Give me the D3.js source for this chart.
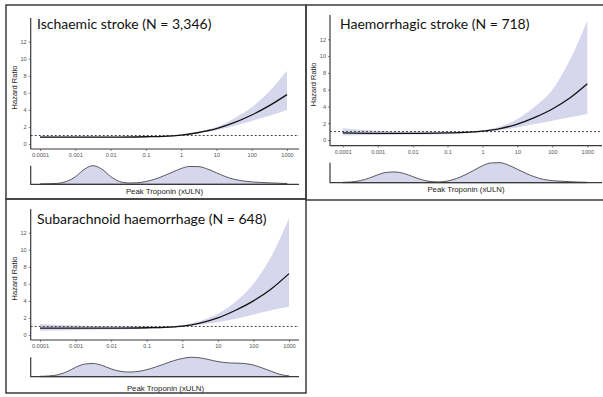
<!DOCTYPE html>
<html>
<head>
<meta charset="utf-8">
<script src="https://cdn.jsdelivr.net/npm/d3@7"></script>
<style>
  body { margin: 0; background: #fff; }
  svg { display: block; }
</style>
</head>
<body>
<svg id="chart" width="603" height="397"></svg>
<script>
// x ticks and y ticks
const xTickValues = [0.0001, 0.001, 0.01, 0.1, 1, 10, 100, 1000];
const xTickLabels = ["0.0001", "0.001", "0.01", "0.1", "1", "10", "100", "1000"];
const yTickValues = [0, 2, 4, 6, 8, 10, 12];

const hrX = [0.0001, 0.001, 0.01, 0.1, 0.316, 1, 3.16, 10, 31.6, 100, 316, 1000];

const ischHR    = [0.80, 0.80, 0.80, 0.85, 0.90, 1.05, 1.35, 1.80, 2.50, 3.40, 4.50, 5.80];
const ischLower = [0.70, 0.72, 0.74, 0.78, 0.85, 1.00, 1.25, 1.60, 2.10, 2.70, 3.30, 4.00];
const ischUpper = [0.95, 0.90, 0.88, 0.90, 0.95, 1.10, 1.45, 2.00, 3.00, 4.30, 6.20, 8.60];

const haemHR    = [0.85, 0.80, 0.80, 0.85, 0.90, 1.05, 1.35, 1.90, 2.70, 3.70, 5.00, 6.70];
const haemLower = [0.55, 0.60, 0.65, 0.70, 0.80, 0.95, 1.15, 1.50, 1.90, 2.30, 2.70, 3.10];
const haemUpper = [1.40, 1.10, 1.00, 1.00, 1.02, 1.15, 1.60, 2.50, 4.00, 6.00, 9.50, 14.2];

const sahHR     = [0.80, 0.80, 0.80, 0.85, 0.90, 1.05, 1.40, 2.00, 2.90, 4.00, 5.40, 7.20];
const sahLower  = [0.50, 0.60, 0.65, 0.70, 0.80, 0.95, 1.20, 1.50, 1.90, 2.40, 2.90, 3.30];
const sahUpper  = [1.30, 1.10, 1.00, 1.00, 1.02, 1.15, 1.65, 2.50, 3.90, 6.00, 9.20, 13.7];

// density of peak troponin, quarter-decade exponents
const densExp = [-4, -3.75, -3.5, -3.25, -3, -2.75, -2.5, -2.25, -2, -1.75, -1.5, -1.25, -1, -0.75,
  -0.5, -0.25, 0, 0.25, 0.5, 0.75, 1, 1.25, 1.5, 1.75, 2, 2.25, 2.5, 2.75, 3];
const ischDens = [0.02, 0.03, 0.05, 0.15, 0.40, 0.80, 1.00, 0.82, 0.42, 0.15, 0.07, 0.08, 0.15, 0.27,
  0.45, 0.65, 0.85, 0.96, 0.95, 0.82, 0.62, 0.42, 0.27, 0.18, 0.13, 0.10, 0.08, 0.06, 0.04];
const haemDens = [0.02, 0.04, 0.10, 0.22, 0.38, 0.50, 0.52, 0.45, 0.30, 0.15, 0.06, 0.04, 0.08, 0.20,
  0.38, 0.60, 0.82, 0.96, 0.97, 0.85, 0.65, 0.45, 0.28, 0.16, 0.10, 0.07, 0.05, 0.03, 0.02];
const sahDens  = [0.02, 0.04, 0.10, 0.25, 0.48, 0.65, 0.68, 0.58, 0.40, 0.28, 0.24, 0.27, 0.36, 0.50,
  0.66, 0.82, 0.94, 1.00, 0.97, 0.88, 0.78, 0.72, 0.70, 0.68, 0.60, 0.45, 0.28, 0.12, 0.04];

const titles = ["Ischaemic stroke (N = 3,346)", "Haemorrhagic stroke (N = 718)", "Subarachnoid haemorrhage (N = 648)"];

const panels = [
  { title: titles[0], hr: ischHR, lo: ischLower, hi: ischUpper, dens: ischDens,
    axisX: 30.7, x0: 40, x1: 287, right: 300, yTop: 18, yZero: 144, y12: 41.7, xAxisY: 149,
    densTop: 165.7, densBase: 184.3, labelY: 194, titleX: 37, titleY: 29 },
  { title: titles[1], hr: haemHR, lo: haemLower, hi: haemUpper, dens: haemDens,
    axisX: 330, x0: 342.7, x1: 587.3, right: 603, yTop: 15, yZero: 140, y12: 39.3, xAxisY: 145.7,
    densTop: 162.7, densBase: 182.7, labelY: 192, titleX: 340, titleY: 29 },
  { title: titles[2], hr: sahHR, lo: sahLower, hi: sahUpper, dens: sahDens,
    axisX: 30.7, x0: 40, x1: 289, right: 300, yTop: 209, yZero: 335, y12: 232.7, xAxisY: 340,
    densTop: 357.3, densBase: 376.7, labelY: 391, titleX: 37, titleY: 224 }
];

const svg = d3.select("#chart");
const fill = "#d6d6ec";
const axisCol = "#3a3a3a";
const sans = "'Liberation Sans', Arial, sans-serif";

// panel frames
const frame = svg.append("g").attr("fill", "none").attr("stroke", "#3c3c3c").attr("stroke-width", 1.5);
frame.append("rect").attr("x", 6).attr("y", 5).attr("width", 300).attr("height", 194);
frame.append("rect").attr("x", 306).attr("y", 5).attr("width", 300).attr("height", 195);
frame.append("rect").attr("x", 6).attr("y", 199).attr("width", 300).attr("height", 194);

panels.forEach(p => {
  const g = svg.append("g");
  const x = d3.scaleLog().domain([0.0001, 1000]).range([p.x0, p.x1]);
  const y = d3.scaleLinear().domain([0, 12]).range([p.yZero, p.y12]);

  const pts = hrX.map((v, i) => ({ x: v, hr: p.hr[i], lo: p.lo[i], hi: p.hi[i] }));

  g.append("path")
    .datum(pts)
    .attr("fill", fill)
    .attr("d", d3.area().curve(d3.curveMonotoneX)
      .x(d => x(d.x)).y0(d => y(d.lo)).y1(d => y(d.hi)));

  g.append("line")
    .attr("x1", p.axisX).attr("x2", p.right - 1)
    .attr("y1", y(1)).attr("y2", y(1))
    .attr("stroke", "#444").attr("stroke-width", 1).attr("stroke-dasharray", "2,2");

  g.append("path")
    .datum(pts)
    .attr("fill", "none").attr("stroke", "#111").attr("stroke-width", 1.3)
    .attr("d", d3.line().curve(d3.curveMonotoneX).x(d => x(d.x)).y(d => y(d.hr)));

  // y axis
  const yAxis = g.append("g")
    .attr("transform", "translate(" + p.axisX + ",0)")
    .call(d3.axisLeft(y).tickValues(yTickValues).tickSize(2).tickPadding(2));
  yAxis.select(".domain").attr("d", "M0," + p.yTop + "V" + p.xAxisY);

  // x axis
  const xAxis = g.append("g")
    .attr("transform", "translate(0," + p.xAxisY + ")")
    .call(d3.axisBottom(x).tickValues(xTickValues)
      .tickFormat((d, i) => xTickLabels[i]).tickSize(2).tickPadding(2.5));
  xAxis.select(".domain").attr("d", "M" + p.axisX + ",0H" + (p.right - 1));

  [yAxis, xAxis].forEach(a => {
    a.select(".domain").attr("stroke", axisCol).attr("stroke-width", 1.2);
    a.selectAll(".tick line").attr("stroke", axisCol).attr("stroke-width", 0.6);
    a.selectAll(".tick text").attr("fill", "#555")
      .style("font-family", sans).style("font-size", "5.6px");
  });

  g.append("text")
    .attr("transform", "translate(" + (p.axisX - 14) + "," + ((p.yTop + p.xAxisY) / 2 + 4) + ") rotate(-90)")
    .attr("text-anchor", "middle")
    .style("font-family", sans).style("font-size", "7.5px")
    .attr("fill", "#222")
    .text("Hazard Ratio");

  // density strip
  const dy = d3.scaleLinear().domain([0, d3.max(p.dens)]).range([p.densBase, p.densTop]);
  const dpts = densExp.map((e, i) => ({ x: Math.pow(10, e), v: p.dens[i] }));
  g.append("path")
    .datum(dpts)
    .attr("fill", fill).attr("stroke", "#333").attr("stroke-width", 0.8)
    .attr("d", d3.area().curve(d3.curveMonotoneX)
      .x(d => x(d.x)).y0(p.densBase).y1(d => dy(d.v)));

  g.append("path")
    .attr("fill", "none").attr("stroke", axisCol).attr("stroke-width", 1.2)
    .attr("d", "M" + p.axisX + "," + p.densTop + "V" + p.densBase + "H" + (p.right - 1));

  g.append("text")
    .attr("x", (p.x0 + p.x1) / 2 + 1).attr("y", p.labelY)
    .attr("text-anchor", "middle")
    .style("font-family", sans).style("font-size", "7.8px")
    .attr("fill", "#222")
    .text("Peak Troponin (xULN)");

  g.append("text")
    .attr("x", p.titleX).attr("y", p.titleY)
    .style("font-family", "Lato, 'Open Sans', sans-serif").style("font-size", "14px")
    .attr("fill", "#111")
    .text(p.title);
});
</script>
</body>
</html>
